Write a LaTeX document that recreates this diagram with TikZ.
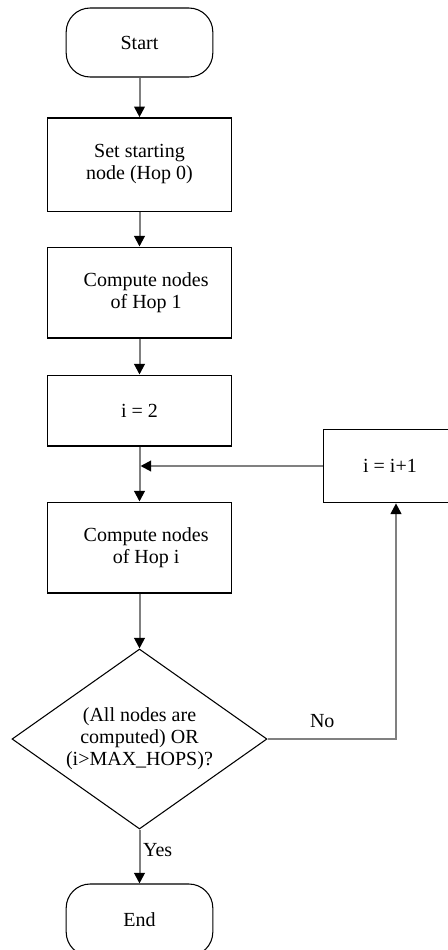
\documentclass[tikz,border=0pt]{standalone}
\usepackage{fontspec}
\setmainfont{Liberation Serif}
\usetikzlibrary{arrows.meta,positioning}
\usetikzlibrary{shapes.geometric}

\begin{document}
\begin{tikzpicture}[
    x=0.75pt, y=-0.75pt,
    font=\fontsize{15}{16.5}\selectfont,
    terminal/.style={draw, rounded corners=18pt, minimum width=110pt,
        minimum height=51.75pt, line width=0.8pt},
    block/.style={draw, align=center, minimum width=138pt, line width=1pt},
    decision/.style={draw, diamond, aspect=1.42, minimum width=191.25pt,
        minimum height=135pt, inner sep=0pt, align=center, line width=0.8pt},
    flow/.style={draw=black!50, line width=1.5pt,
        -{Triangle[black, width=8pt, length=8pt]}},
]
\useasboundingbox (0,0) rectangle (447,950);

\node[terminal] (start) at (139.5,42.5) {Start};
\node[block, minimum height=70pt] (hop0) at (139.5,164.5) {Set starting\\node (Hop 0)};
\node[block, minimum height=68pt] (hop1) at (139.5,292.5) {\hspace*{10pt}Compute nodes\\\hspace*{10pt}of Hop 1};
\node[block, minimum height=53pt] (init) at (139.5,410.5) {i = 2};
\node[block, minimum height=68pt] (hopi) at (139.5,547.5) {\hspace*{10pt}Compute nodes\\\hspace*{10pt}of Hop i};
\node[decision] (check) at (139.5,739) {(All nodes are\\computed) OR\\(i>MAX\_HOPS)?};
\node[block, minimum width=112pt, minimum height=55pt] (incr) at (398,466) {\hspace*{-12pt}i = i+1};
\node[terminal, minimum height=54pt] (end) at (139.5,920) {End};

% main column
\draw[flow] (start) -- (hop0);
\draw[flow] (hop0) -- (hop1);
\draw[flow] (hop1) -- (init);
\draw[flow] (init) -- (hopi);
\draw[flow] (hopi) -- (check);
\draw[flow] (check) -- node[right, pos=0.38, inner sep=2pt] {Yes} (end);

% loop back
\draw[flow] (check.east) -| node[above=4.5pt, pos=0.213] {No} ([xshift=-1.5pt]incr.south);
\coordinate (merge) at (140.5,466);
\draw[flow] (incr) -- (merge);
\end{tikzpicture}
\end{document}
